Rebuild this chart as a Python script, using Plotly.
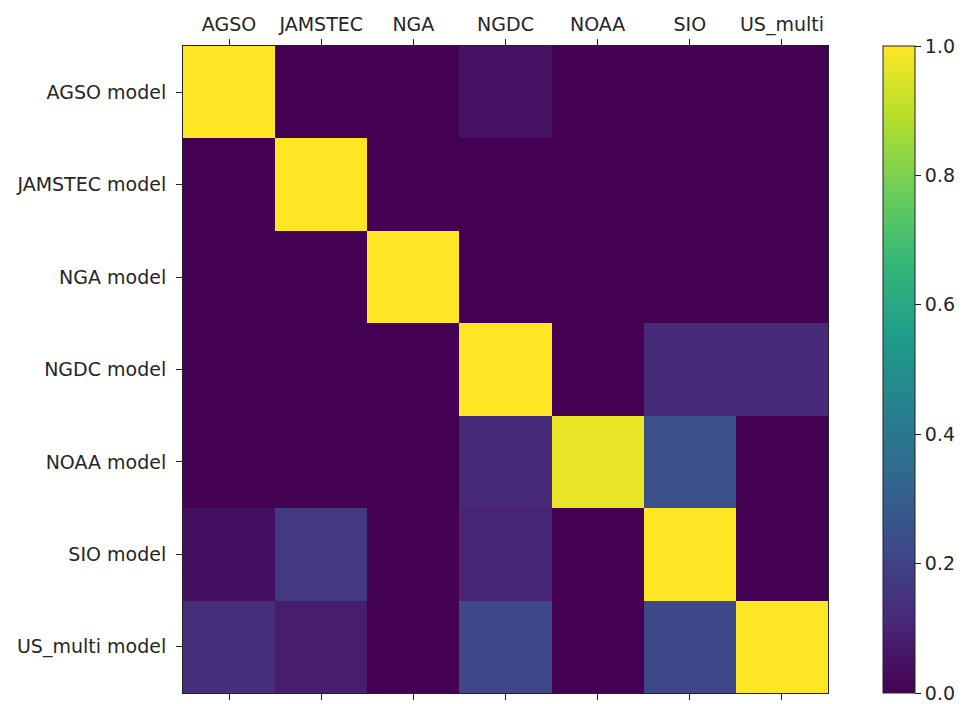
import plotly.graph_objects as go

sources = ["AGSO", "JAMSTEC", "NGA", "NGDC", "NOAA", "SIO", "US_multi"]
models = [s + " model" for s in sources]

# correlation of each model (rows) with each source dataset (columns)
row_agso = [1.00, 0.00, 0.00, 0.05, 0.00, 0.00, 0.00]
row_jamstec = [0.00, 1.00, 0.00, 0.00, 0.00, 0.00, 0.00]
row_nga = [0.00, 0.00, 1.00, 0.00, 0.00, 0.00, 0.00]
row_ngdc = [0.00, 0.00, 0.00, 1.00, 0.00, 0.12, 0.12]
row_noaa = [0.00, 0.00, 0.00, 0.12, 0.97, 0.25, 0.00]
row_sio = [0.04, 0.17, 0.00, 0.10, 0.00, 1.00, 0.00]
row_us_multi = [0.13, 0.08, 0.00, 0.22, 0.00, 0.22, 1.00]

z = [row_agso, row_jamstec, row_nga, row_ngdc, row_noaa, row_sio, row_us_multi]

font = dict(family="DejaVu Sans", size=19, color="#262626")

fig = go.Figure(go.Heatmap(
    z=z, x=sources, y=models,
    colorscale="Viridis", zmin=0, zmax=1,
    xgap=0, ygap=0,
    colorbar=dict(
        x=(883 - 183) / 645, xanchor="left", xref="paper",
        y=0, yanchor="bottom", len=1, lenmode="fraction",
        thickness=32, thicknessmode="pixels",
        outlinewidth=1, outlinecolor="#222",
        ticks="outside", ticklen=6, tickwidth=1, tickcolor="#222",
        tickvals=[0, 0.2, 0.4, 0.6, 0.8, 1.0],
        ticktext=["0.0", "0.2", "0.4", "0.6", "0.8", "1.0"],
        tickfont=font, xpad=0, ypad=0,
    ),
))

fig.update_layout(
    width=966, height=704,
    margin=dict(l=183, r=138, t=46, b=11, autoexpand=False),
    paper_bgcolor="white", plot_bgcolor="white",
    font=font,
)
fig.update_xaxes(
    side="top", showline=True, linecolor="#222", linewidth=1, mirror="ticks",
    ticks="outside", ticklen=6, tickcolor="#222", tickfont=font, showgrid=False,
)
fig.update_yaxes(
    autorange="reversed", showline=True, linecolor="#222", linewidth=1, mirror=True,
    ticks="outside", ticklen=6, tickcolor="#222", tickfont=font, showgrid=False,
    ticklabelstandoff=6,
)

fig.write_html("out.html")
